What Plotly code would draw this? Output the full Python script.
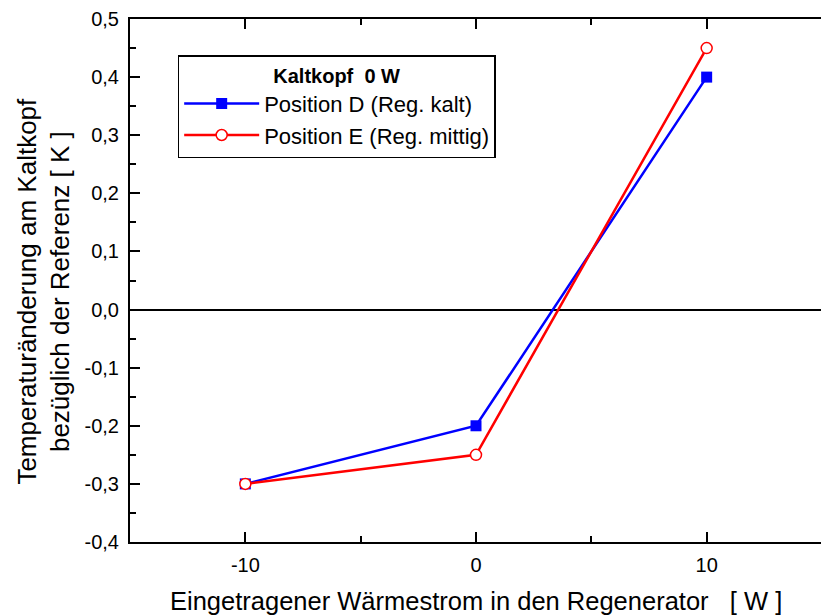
import plotly.graph_objects as go

# Heat flow into the regenerator [W]
heat_flow = [-10, 0, 10]
# Temperature change at the cold head relative to reference [K]
pos_d = [-0.3, -0.2, 0.4]
pos_e = [-0.3, -0.25, 0.45]

series_names = ["Position D (Reg. kalt)", "Position E (Reg. mittig)"]
legend_title = "<b>Kaltkopf  0 W</b>"

y_ticks = [0.5, 0.4, 0.3, 0.2, 0.1, 0.0, -0.1, -0.2, -0.3, -0.4]
y_ticktext = ["0,5", "0,4", "0,3", "0,2", "0,1", "0,0", "-0,1", "-0,2", "-0,3", "-0,4"]
x_ticks = [-10, 0, 10]
x_ticktext = ["-10", "0", "10"]

FONT = "Liberation Sans, Arial, sans-serif"

fig = go.Figure()
fig.add_trace(go.Scatter(
    x=heat_flow, y=pos_d, mode="lines+markers", name=series_names[0],
    line=dict(color="#0000FF", width=2.5),
    marker=dict(symbol="square", size=11, color="#0000FF"),
))
fig.add_trace(go.Scatter(
    x=heat_flow, y=pos_e, mode="lines+markers", name=series_names[1],
    line=dict(color="#FF0000", width=2.5),
    marker=dict(symbol="circle", size=11, color="white",
                line=dict(color="#FF0000", width=1.5)),
))

x_min, x_max = -15, 14.957

fig.update_layout(
    width=821, height=616,
    margin=dict(l=130, r=0, t=19, b=74),
    paper_bgcolor="white", plot_bgcolor="white",
    font=dict(family=FONT, color="black"),
    showlegend=True,
    legend=dict(
        x=0.069, y=0.931, xanchor="left", yanchor="top",
        bgcolor="white", bordercolor="black", borderwidth=1.5,
        font=dict(size=22, family=FONT),
        title=dict(text=legend_title, side="top center",
                   font=dict(size=20, family=FONT)),
        itemwidth=75, tracegroupgap=0,
    ),
    xaxis=dict(
        range=[x_min, x_max], tickvals=x_ticks, ticktext=x_ticktext,
        ticks="inside", ticklen=10, tickwidth=2, tickcolor="black",
        minor=dict(dtick=5, tick0=0, ticks="inside", ticklen=6,
                   tickwidth=2, tickcolor="black"),
        showline=True, linewidth=2, linecolor="black", mirror="ticks",
        showgrid=False, zeroline=False,
        tickfont=dict(size=20, family=FONT), ticklabelstandoff=4,
    ),
    yaxis=dict(
        range=[-0.4, 0.5], tickvals=y_ticks, ticktext=y_ticktext,
        ticks="inside", ticklen=10, tickwidth=2, tickcolor="black",
        minor=dict(dtick=0.05, tick0=0, ticks="inside", ticklen=6,
                   tickwidth=2, tickcolor="black"),
        showline=True, linewidth=2, linecolor="black", mirror=False,
        showgrid=False, zeroline=True, zerolinecolor="black", zerolinewidth=2,
        tickfont=dict(size=20, family=FONT), ticklabelstandoff=5,
    ),
    # right-hand tick marks without an axis line
    yaxis2=dict(
        overlaying="y", side="right", anchor="x",
        range=[-0.4, 0.5], tickvals=y_ticks, showticklabels=False,
        ticks="inside", ticklen=10, tickwidth=2, tickcolor="black",
        minor=dict(dtick=0.05, tick0=0, ticks="inside", ticklen=6,
                   tickwidth=2, tickcolor="black"),
        showline=False, showgrid=False, zeroline=False,
    ),
    annotations=[
        dict(text="Eingetragener Wärmestrom in den Regenerator   [ W ]",
             xref="paper", yref="paper", x=0.5, y=-0.113,
             xanchor="center", yanchor="middle", showarrow=False,
             font=dict(size=25.5, family=FONT)),
        dict(text="Temperaturänderung am Kaltkopf<br>bezüglich der Referenz [ K ]",
             xref="paper", yref="paper", x=-0.125, y=0.48,
             xanchor="center", yanchor="middle", showarrow=False,
             textangle=-90, font=dict(size=26, family=FONT)),
    ],
)

fig.write_html("out.html")
